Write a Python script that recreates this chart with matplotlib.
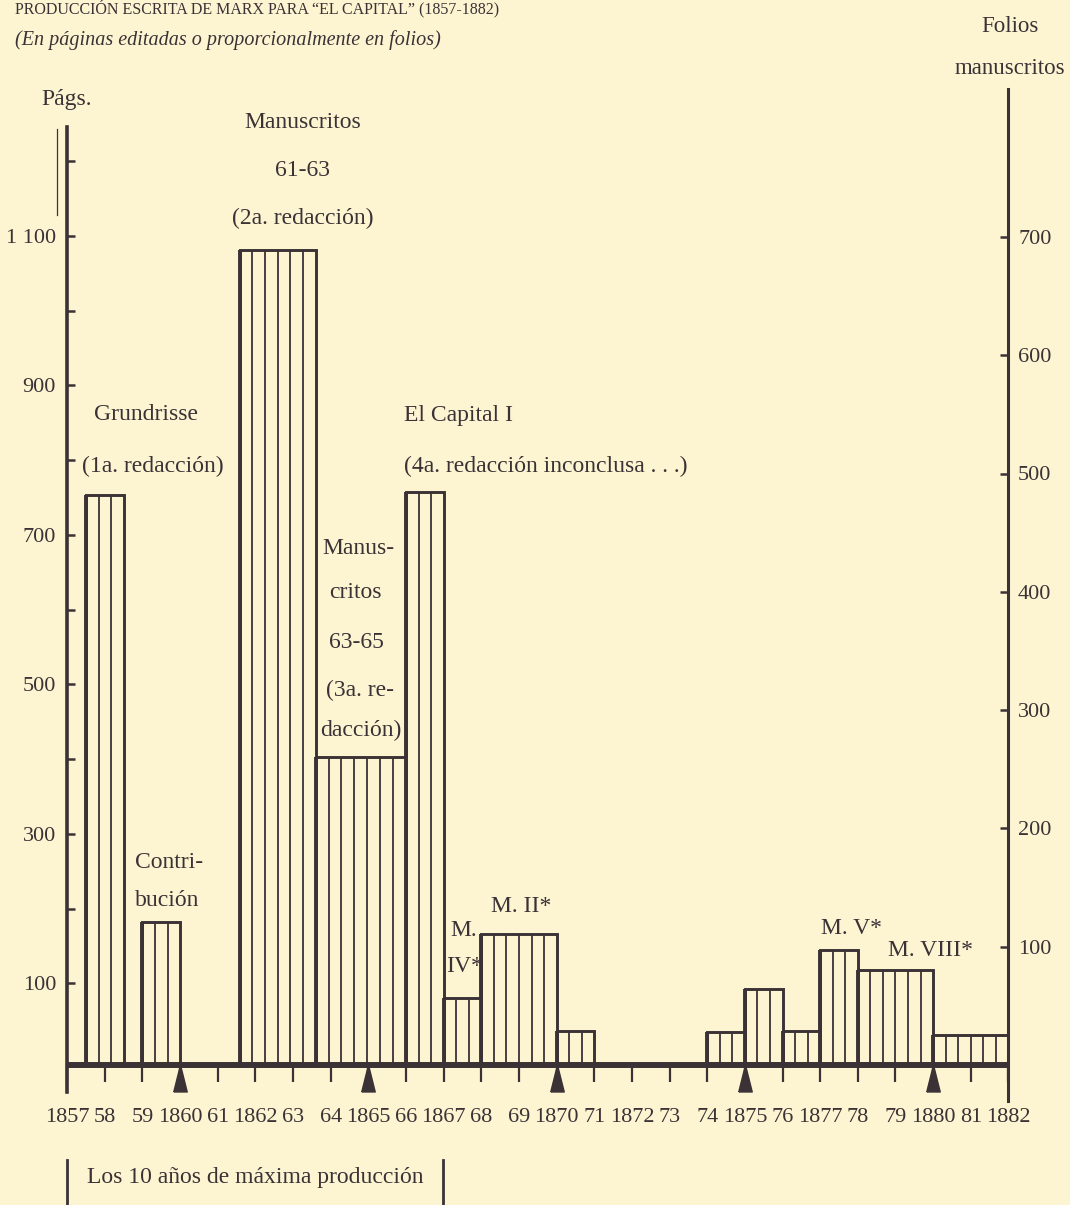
import numpy as np
import matplotlib.pyplot as plt
from matplotlib.transforms import Affine2D

plt.rcParams['font.family'] = ['Liberation Serif', 'DejaVu Serif']

W, H = 1070, 1205
BG = '#fdf5d2'
INK = '#3b3236'

# bar spans (years) and heights (folios manuscritos)
bar_start = [1857.5, 1859, 1861.58, 1863.6, 1866, 1867, 1868, 1870, 1874, 1875, 1876, 1877, 1878, 1880]
bar_end = [1858.5, 1860, 1863.6, 1866, 1867, 1868, 1870, 1871, 1875, 1876, 1877, 1878, 1880, 1882]
bar_folios = [482, 121, 689, 260, 484, 57, 111, 29, 28, 64, 29, 97, 80, 25]

years = list(range(1857, 1883))
year_labels = ['1857', '58', '59', '1860', '61', '1862', '63', '64', '1865', '66', '1867', '68', '69',
               '1870', '71', '1872', '73', '74', '1875', '76', '1877', '78', '79', '1880', '81', '1882']
arrow_years = [1860, 1865, 1870, 1875, 1880]

page_ticks = list(range(100, 1300, 100))
page_labels = ['100', '', '300', '', '500', '', '700', '', '900', '', '1 100', '']
folio_ticks = [100, 200, 300, 400, 500, 600, 700]

fig = plt.figure(figsize=(W / 100, H / 100), dpi=100, facecolor=BG)
# pixel coordinates measured from the top-left corner
T = Affine2D().scale(1 / W, -1 / H).translate(0, 1) + fig.transFigure

x0, x1 = 67.2, 1008.4
y_base, y_top = 1065, 89
folio_px = 1.183   # px per folio
page_px = 0.7475   # px per page
page0 = 1058       # pixel row of 0 pages

ax = fig.add_axes([x0 / W, 1 - y_base / H, (x1 - x0) / W, (y_base - y_top) / H])
ax.set_xlim(1857, 1882)
ax.set_ylim(0, (y_base - y_top) / folio_px)
ax.patch.set_visible(False)

axp = ax.twinx()
axp.set_ylim((page0 - y_base) / page_px, (page0 - y_top) / page_px)

for a in (ax, axp):
    for s in a.spines.values():
        s.set_visible(False)

# bars with vertical ruling
widths = [e - s for s, e in zip(bar_start, bar_end)]
ax.bar(bar_start, bar_folios, width=widths, align='edge', fill=False,
       edgecolor=INK, linewidth=2.1, zorder=3)
for s, w, h in zip(bar_start, widths, bar_folios):
    n = max(1, round(w * 3))
    xs = [s + w * k / n for k in range(1, n)]
    ax.vlines(xs, 0, h, color=INK, lw=1.3, zorder=3)
    ax.vlines(s, 0, h, color=INK, lw=2.8, zorder=3)

# axis lines
ax.plot([1857, 1882], [0, 0], lw=4.3, color=INK, solid_capstyle='butt', clip_on=False, zorder=5)
axp.plot([1857, 1857], [(page0 - 1092) / page_px, (page0 - 127) / page_px],
         lw=2.6, color=INK, clip_on=False, zorder=5)
axp.plot([1856.73, 1856.73], [(page0 - 215) / page_px, (page0 - 129) / page_px],
         lw=0.9, color=INK, clip_on=False)
ax.plot([1882, 1882], [(y_base - 1101) / folio_px, (y_base - 89) / folio_px],
        lw=2.2, color=INK, clip_on=False, zorder=5)

# arrows at the five-year marks
tri = [(-0.5, -1), (0.5, -1), (0, 1), (-0.5, -1)]
ax.plot(arrow_years, [-11.4] * len(arrow_years), ls='none', marker=tri, ms=19.4,
        color=INK, clip_on=False, zorder=6)

ax.set_xticks(years, year_labels)
ax.tick_params(axis='x', direction='out', length=12, width=1.6, pad=19,
               labelsize=16, colors=INK)

ax.yaxis.tick_right()
ax.set_yticks(folio_ticks, [str(v) for v in folio_ticks])
ax.tick_params(axis='y', direction='in', length=6, width=1.8, pad=7,
               labelsize=16, colors=INK)

axp.yaxis.tick_left()
axp.set_yticks(page_ticks, page_labels)
axp.tick_params(axis='y', direction='in', length=6, width=1.8, pad=8,
                labelsize=16, colors=INK)


def txt(x, y, s, ha='center', size=17, **kw):
    fig.text(x, y, s, transform=T, ha=ha, va='center', fontsize=size, color=INK, **kw)


# headings
fig.text(15, 14, 'PRODUCCIÓN ESCRITA DE MARX PARA “EL CAPITAL” (1857-1882)', transform=T,
         ha='left', va='baseline', fontsize=11.5, color=INK)
txt(15, 40, '(En páginas editadas o proporcionalmente en folios)', ha='left', size=14.5, style='italic')
txt(67, 100, 'Págs.')
txt(1010, 27, 'Folios', size=16.5)
txt(1010, 68, 'manuscritos', size=16.5)

# bar labels
txt(146, 415, 'Grundrisse')
txt(153, 466, '(1a. redacción)')
txt(135, 862, 'Contri-', ha='left')
txt(135, 900, 'bución', ha='left')
txt(303, 123, 'Manuscritos')
txt(303, 170, '61-63')
txt(303, 218, '(2a. redacción)')
txt(358, 548, 'Manus-')
txt(355, 592, 'critos')
txt(356, 643, '63-65')
txt(360, 690, '(3a. re-')
txt(361, 730, 'dacción)')
txt(404, 415, 'El Capital I', ha='left')
txt(404, 466, '(4a. redacción inconclusa . . .)', ha='left')
txt(450, 930, 'M.', ha='left')
txt(446, 967, 'IV*', ha='left')
txt(491, 907, 'M. II*', ha='left')
txt(821, 928, 'M. V*', ha='left')
txt(888, 950, 'M. VIII*', ha='left')

# bottom bracket
txt(255, 1178, 'Los 10 años de máxima producción')
for bx in (67.3, 442.5):
    fig.add_artist(plt.Line2D([bx, bx], [1160, 1205], transform=T, color=INK, lw=2))

fig.savefig('out.png', dpi=100, facecolor=BG)
